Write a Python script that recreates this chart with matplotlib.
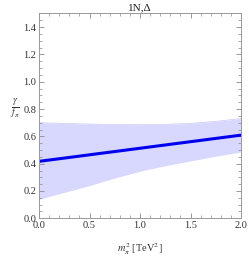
import matplotlib
matplotlib.use('Agg')
import matplotlib.pyplot as plt
import numpy as np
from matplotlib.ticker import MultipleLocator

# values
m2 = [0.0, 0.25, 0.5, 0.75, 1.0, 1.25, 1.5, 1.75, 2.0]
central = [0.417, 0.441, 0.465, 0.489, 0.513, 0.537, 0.561, 0.585, 0.609]
upper = [0.700, 0.695, 0.690, 0.687, 0.686, 0.688, 0.695, 0.710, 0.730]
lower = [0.140, 0.190, 0.240, 0.295, 0.345, 0.385, 0.420, 0.455, 0.486]

plt.rcParams['font.family'] = ['Liberation Serif', 'DejaVu Serif']
plt.rcParams['mathtext.fontset'] = 'stix'

fig = plt.figure(figsize=(2.49, 2.57), dpi=100)
ax = fig.add_axes([0.157, 0.1506, 0.811, 0.797])

ax.fill_between(m2, lower, upper, color='#d8d8ff', linewidth=0)
ax.plot(m2, upper, color='#c8c8f4', linewidth=0.5)
ax.plot(m2, central, color='#0000ee', linewidth=2.2, solid_capstyle='butt')

ax.set_xlim(0, 2.0)
ax.set_ylim(0, 1.5)
ax.xaxis.set_major_locator(MultipleLocator(0.5))
ax.xaxis.set_minor_locator(MultipleLocator(0.1))
ax.yaxis.set_major_locator(MultipleLocator(0.2))
ax.yaxis.set_minor_locator(MultipleLocator(0.05))
ax.tick_params(which='both', direction='in', top=True, right=True,
               color='#888888', labelsize=7.5, labelcolor='#333333', pad=2)
ax.tick_params(which='major', length=3.5, width=0.6)
ax.tick_params(which='minor', length=2, width=0.5)
for s in ax.spines.values():
    s.set_color('#999999')
    s.set_linewidth(0.7)

ax.set_title('1N,\u0394', fontsize=8, pad=2.5, color='#222222')
ax.set_xlabel(r'$m_\pi^2$ [TeV$^2$]', fontsize=7.5, labelpad=8, color='#333333')
fig.text(0.06, 0.575, r'$\frac{\gamma}{f_\pi}$', fontsize=10, ha='center', va='center', color='#333333')

fig.savefig('out.png', dpi=100)
